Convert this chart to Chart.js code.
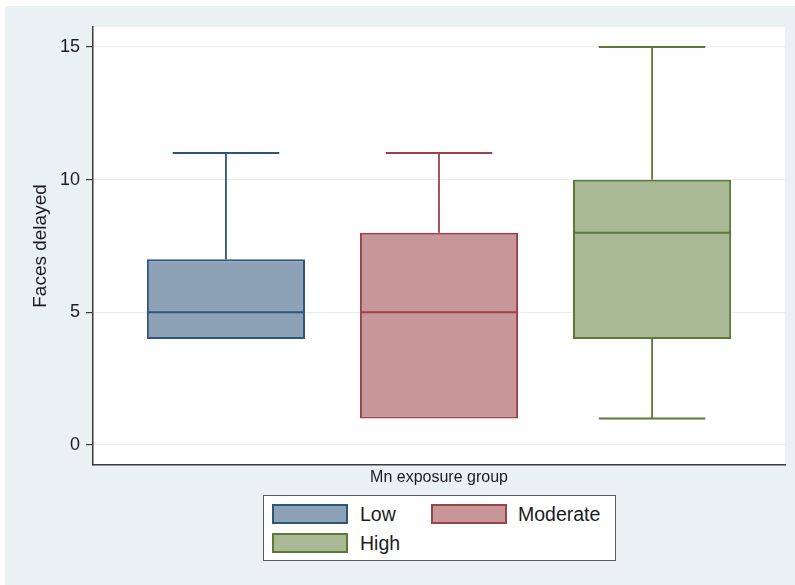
<!DOCTYPE html>
<html>
<head>
<meta charset="utf-8">
<script src="https://cdn.jsdelivr.net/npm/chart.js@4/dist/chart.umd.min.js"></script>
<style>
  html, body { margin: 0; padding: 0; background: #ffffff; }
  #wrap { position: relative; width: 795px; height: 585px; font-family: "Liberation Sans", Arial, sans-serif; }
  #chart { position: absolute; left: 0; top: 0; }
  #legend {
    position: absolute; left: 263px; top: 495px; width: 351px; height: 64px;
    background: #ffffff; border: 1.5px solid #5a5a5a;
  }
  .sw { position: absolute; width: 72px; height: 16px; border: 2px solid; }
  .lb { position: absolute; font-size: 19.5px; color: #1c1c1c; line-height: 20px; }
</style>
</head>
<body>
<div id="wrap">
  <canvas id="chart" width="795" height="585"></canvas>
  <div id="legend"></div>
</div>
<script>
// Faces delayed, by Mn exposure group
const categories = ['Low', 'Moderate', 'High'];
const whiskerLow = [4, 1, 1];
const q1 = [4, 1, 4];
const median = [5, 5, 8];
const q3 = [7, 8, 10];
const whiskerHigh = [11, 11, 15];
const yTicks = [0, 5, 10, 15];

const fills = ['#8DA2B7', '#C8979A', '#AAB995'];
const strokes = ['#2F5579', '#9C4249', '#5A7A36'];

const boxData = categories.map((c, i) => ({ x: i + 1, y: [q1[i], q3[i]] }));

// whiskers, caps and medians drawn from the same scales as the boxes
const boxExtras = {
  id: 'boxExtras',
  beforeDraw(chart) {
    const { ctx, chartArea: a } = chart;
    ctx.save();
    ctx.fillStyle = '#EAF1F3';
    ctx.fillRect(5, 6, 790, 579);
    ctx.fillStyle = '#ffffff';
    ctx.fillRect(a.left, a.top, a.right - a.left, a.bottom - a.top);
    ctx.restore();
  },
  afterDatasetsDraw(chart) {
    const { ctx, scales: { x, y } } = chart;
    const meta = chart.getDatasetMeta(0);
    ctx.save();
    ctx.lineCap = 'butt';
    categories.forEach((c, i) => {
      const bar = meta.data[i];
      const cx = x.getPixelForValue(i + 1);
      const half = bar.width / 2;
      const capHalf = x.getPixelForValue(i + 1.25) - cx;
      ctx.strokeStyle = strokes[i];
      // median
      ctx.lineWidth = 2;
      const ym = y.getPixelForValue(median[i]);
      ctx.beginPath();
      ctx.moveTo(cx - half, ym);
      ctx.lineTo(cx + half, ym);
      ctx.stroke();
      // whiskers
      const segs = [[q3[i], whiskerHigh[i]], [q1[i], whiskerLow[i]]];
      segs.forEach(([from, to]) => {
        if (from === to) return;
        const y0 = y.getPixelForValue(from);
        const y1 = y.getPixelForValue(to);
        ctx.lineWidth = 1.8;
        ctx.beginPath();
        ctx.moveTo(cx, y0);
        ctx.lineTo(cx, y1);
        ctx.stroke();
        ctx.lineWidth = 2;
        ctx.beginPath();
        ctx.moveTo(cx - capHalf, y1);
        ctx.lineTo(cx + capHalf, y1);
        ctx.stroke();
      });
    });
    ctx.restore();
  }
};

new Chart(document.getElementById('chart'), {
  type: 'bar',
  data: {
    datasets: [{
      label: 'Faces delayed',
      data: boxData,
      backgroundColor: fills,
      borderColor: strokes,
      borderWidth: 2,
      borderSkipped: false,
      barPercentage: 0.742,
      categoryPercentage: 1
    }]
  },
  options: {
    responsive: false,
    animation: false,
    layout: { padding: { left: 29, right: 10, top: 27, bottom: 98 } },
    plugins: { legend: { display: false }, tooltip: { enabled: false } },
    scales: {
      x: {
        type: 'linear',
        min: 0.376,
        max: 3.624,
        offset: false,
        afterBuildTicks(s) { s.ticks = categories.map((c, i) => ({ value: i + 1 })); },
        ticks: { display: false },
        grid: { display: false },
        border: { display: true, color: '#3a3a3a', width: 1.5 },
        title: {
          display: true,
          text: 'Mn exposure group',
          color: '#1c1c1c',
          padding: 0,
          font: { family: 'Liberation Sans, Arial, sans-serif', size: 16 }
        },
        afterFit(s) { s.height = 22; }
      },
      y: {
        type: 'linear',
        min: -0.75,
        max: 15.75,
        afterBuildTicks(s) { s.ticks = yTicks.map(v => ({ value: v })); },
        ticks: {
          color: '#1c1c1c',
          padding: 6,
          font: { family: 'Liberation Sans, Arial, sans-serif', size: 18 }
        },
        grid: { color: '#E6EEF1', lineWidth: 1.2, tickLength: 7, tickColor: '#3a3a3a', tickWidth: 1.2 },
        border: { display: true, color: '#3a3a3a', width: 1.5 },
        title: {
          display: true,
          text: 'Faces delayed',
          color: '#1c1c1c',
          padding: 0,
          font: { family: 'Liberation Sans, Arial, sans-serif', size: 19 }
        },
        afterFit(s) { s.width = 64; }
      }
    }
  },
  plugins: [boxExtras]
});

// legend: two columns, wrapping to a second row
const legend = document.getElementById('legend');
const slots = [[8, 8, 96], [167, 8, 254], [8, 37, 96]];
categories.forEach((c, i) => {
  const [sx, sy, tx] = slots[i];
  const sw = document.createElement('div');
  sw.className = 'sw';
  sw.style.left = sx + 'px';
  sw.style.top = sy + 'px';
  sw.style.background = fills[i];
  sw.style.borderColor = strokes[i];
  legend.appendChild(sw);
  const lb = document.createElement('div');
  lb.className = 'lb';
  lb.style.left = tx + 'px';
  lb.style.top = sy + 0 + 'px';
  lb.textContent = c;
  legend.appendChild(lb);
});
</script>
</body>
</html>
